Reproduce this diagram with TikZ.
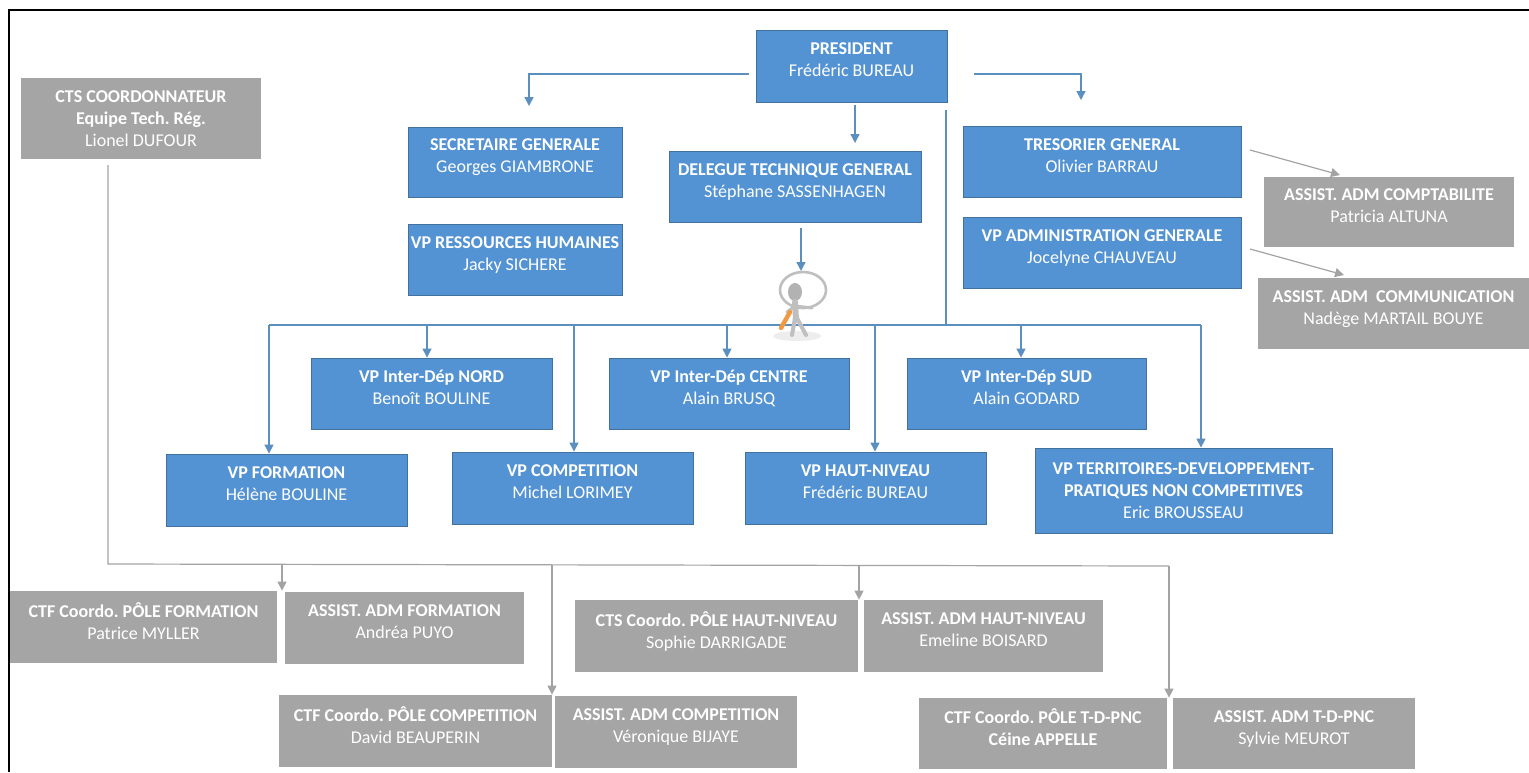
\documentclass[tikz,border=0pt]{standalone}
\usepackage{fontspec}
\setmainfont{Carlito}
\usetikzlibrary{arrows.meta,calc}
\definecolor{bluebox}{HTML}{5393D3}
\definecolor{blueedge}{HTML}{41719C}
\definecolor{blueline}{HTML}{5B8FBF}
\definecolor{greybox}{HTML}{A5A5A5}
\definecolor{greyline}{HTML}{A3A3A3}
\tikzset{
  chart/.style={x=0.5pt,y=-0.5pt},
  orgbox/.style={inner sep=0pt,align=center,text=white,font=\fontsize{9}{11}\selectfont\frenchspacing},
  bluenode/.style={orgbox,fill=bluebox,draw=blueedge,line width=0.45pt},
  greynode/.style={orgbox,fill=greybox},
  bluewire/.style={draw=blueline,line width=0.7pt,-{Triangle[length=4.5pt,width=4.5pt]}},
  bluebus/.style={draw=blueline,line width=0.7pt},
  greywire/.style={draw=greyline,line width=0.6pt,-{Triangle[length=4.5pt,width=4.5pt]}},
  greybus/.style={draw=greyline,line width=0.6pt},
}
\newcommand{\orgnode}[7]{%
  \pgfmathsetmacro{\cxv}{(#3+#5)/2}%
  \pgfmathsetmacro{\cyv}{(#4+#6)/2}%
  \pgfmathsetmacro{\wv}{(#5-#3)*0.5}%
  \pgfmathsetmacro{\hv}{(#6-#4)*0.5}%
  \node[#1,minimum width=\wv pt,minimum height=\hv pt] (#2) at (\cxv,\cyv) {#7};%
}
\newcommand{\tl}{\\[-5pt]\mbox{}}
\begin{document}
\begin{tikzpicture}[chart]
\useasboundingbox (0,0) rectangle (1529,772);
\fill[white] (0,0) rectangle (1529,772);
% frame
\coordinate (frameA) at (9,772);
\coordinate (frameB) at (9,10);
\coordinate (frameC) at (1529,10);
\draw[black,line width=1pt] (frameA) -- (frameB) -- (frameC);
% blue boxes
\orgnode{bluenode}{pres}{756}{30}{947}{102}{\textbf{PRESIDENT}\\Frédéric BUREAU\tl}
\orgnode{bluenode}{sec}{408}{127}{622}{197}{\textbf{SECRETAIRE GENERALE}\\Georges GIAMBRONE\tl}
\orgnode{bluenode}{dtg}{669}{151}{921}{222}{\textbf{DELEGUE TECHNIQUE GENERAL}\\Stéphane SASSENHAGEN\tl}
\orgnode{bluenode}{rh}{408}{224}{622}{295}{\textbf{VP RESSOURCES HUMAINES}\\Jacky SICHERE\tl}
\orgnode{bluenode}{tres}{963}{126}{1241}{197}{\textbf{TRESORIER GENERAL}\\Olivier BARRAU\tl}
\orgnode{bluenode}{adm}{963}{217}{1241}{288}{\textbf{VP ADMINISTRATION GENERALE}\\Jocelyne CHAUVEAU\tl}
\orgnode{bluenode}{nord}{311}{358}{552}{429}{\textbf{VP Inter-Dép NORD}\\Benoît BOULINE\tl}
\orgnode{bluenode}{centre}{609}{358}{849}{429}{\textbf{VP Inter-Dép CENTRE}\\Alain BRUSQ\tl}
\orgnode{bluenode}{sud}{907}{358}{1146}{429}{\textbf{VP Inter-Dép SUD}\\Alain GODARD\tl}
\orgnode{bluenode}{form}{166}{454}{407}{526}{\textbf{VP FORMATION}\\Hélène BOULINE\tl}
\orgnode{bluenode}{comp}{452}{452}{693}{524}{\textbf{VP COMPETITION}\\Michel LORIMEY\tl}
\orgnode{bluenode}{hn}{745}{452}{986}{524}{\textbf{VP HAUT-NIVEAU}\\Frédéric BUREAU\tl}
\orgnode{bluenode}{terr}{1035}{448}{1332}{533}{\textbf{VP TERRITOIRES-DEVELOPPEMENT-}\\\textbf{PRATIQUES NON COMPETITIVES}\\Eric BROUSSEAU}
% grey boxes
\orgnode{greynode}{cts}{21}{78}{261}{159}{\textbf{CTS COORDONNATEUR}\\\textbf{Equipe Tech. Rég.}\\Lionel DUFOUR}
\orgnode{greynode}{acpt}{1264}{177}{1514}{247}{\textbf{ASSIST. ADM COMPTABILITE}\\Patricia ALTUNA\tl}
\orgnode{greynode}{acom}{1258}{278}{1529}{349}{\textbf{ASSIST. ADM\ \ COMMUNICATION}\\Nadège MARTAIL BOUYE\tl}
\orgnode{greynode}{cf}{10}{591}{277}{663}{\textbf{CTF Coordo. PÔLE FORMATION}\\Patrice MYLLER\tl}
\orgnode{greynode}{af}{285}{592}{524}{664}{\textbf{ASSIST. ADM FORMATION}\\Andréa PUYO\tl}
\orgnode{greynode}{chn}{575}{600}{858}{672}{\textbf{CTS Coordo. PÔLE HAUT-NIVEAU}\\Sophie DARRIGADE\tl}
\orgnode{greynode}{ahn}{864}{600}{1103}{672}{\textbf{ASSIST. ADM HAUT-NIVEAU}\\Emeline BOISARD\tl}
\orgnode{greynode}{cc}{279}{695}{552}{767}{\textbf{CTF Coordo. PÔLE COMPETITION}\\David BEAUPERIN\tl}
\orgnode{greynode}{ac}{555}{696}{797}{768}{\textbf{ASSIST. ADM COMPETITION}\\Véronique BIJAYE\tl}
\orgnode{greynode}{ct}{919}{698}{1167}{769}{\textbf{CTF Coordo. PÔLE T-D-PNC}\\\textbf{Céine APPELLE}\tl}
\orgnode{greynode}{at}{1173}{698}{1415}{769}{\textbf{ASSIST. ADM T-D-PNC}\\Sylvie MEUROT\tl}
% junction points
\coordinate (pl) at (749,74);
\coordinate (pr) at (974,74);
\coordinate (secin) at (529,106);
\coordinate (tresin) at (1081,100);
\coordinate (presout) at (855,105);
\coordinate (dtgin) at (855,143);
\coordinate (vtop) at (946,110);
\coordinate (vbot) at (946,325);
\coordinate (dout) at (801,228);
\coordinate (dend) at (801,271);
\coordinate (busL) at (269,325);
\coordinate (tapN) at (427,325);
\coordinate (tapC) at (574,325);
\coordinate (tapM) at (727,325);
\coordinate (tapH) at (875,325);
\coordinate (tapS) at (1021,325);
\coordinate (busR) at (1201,325);
\coordinate (gtop) at (108,165);
\coordinate (gcorner) at (108,564);
\coordinate (gend) at (1169,566);
\coordinate (tapGa) at (282,564);
\coordinate (tapGb) at (552,565);
\coordinate (tapGc) at (859,565);
\coordinate (tresA) at (1250,150);
\coordinate (tresB) at (1340,175);
\coordinate (admA) at (1250,249);
\coordinate (admB) at (1344,275);
% blue connectors
\draw[bluewire] (pl) -| (secin);
\draw[bluewire] (pr) -| (tresin);
\draw[bluewire] (presout) -- (dtgin);
\draw[bluewire] (dout) -- (dend);
\draw[bluebus] (vtop) -- (vbot);
\draw[bluebus] (busL) -- (busR);
\draw[bluewire] (busL) -- (busL |- form.north);
\draw[bluewire] (tapN) -- (tapN |- nord.north);
\draw[bluewire] (tapC) -- (tapC |- comp.north);
\draw[bluewire] (tapM) -- (tapM |- centre.north);
\draw[bluewire] (tapH) -- (tapH |- hn.north);
\draw[bluewire] (tapS) -- (tapS |- sud.north);
\draw[bluewire] (busR) -- (busR |- terr.north);
% grey connectors
\draw[greywire] (tresA) -- (tresB);
\draw[greywire] (admA) -- (admB);
\draw[greybus] (gtop) -- (gcorner) -- (gend);
\draw[greywire] (tapGa) -- (tapGa |- cf.north);
\draw[greywire] (tapGb) -- (tapGb |- cc.north);
\draw[greywire] (tapGc) -- (tapGc |- chn.north);
\draw[greywire] (gend) -- (gend |- ct.north);
% figure
\fill[black!7] (797,336) ellipse (24 and 5);
\draw[black!25,line width=1.3pt] (803,290) ellipse (23 and 18);
\fill[black!30] (795,292) ellipse (7 and 9);
\draw[black!25,line width=3pt,line cap=round] (795,302) -- (796,320);
\draw[black!25,line width=2pt,line cap=round] (795,318) -- (792,335);
\draw[black!25,line width=2pt,line cap=round] (797,318) -- (806,335);
\draw[black!25,line width=1.5pt,line cap=round] (795,306) -- (812,308);
\draw[black!25,line width=1.5pt,line cap=round] (795,306) -- (787,312);
\draw[orange!70!brown!80!white,line width=2.2pt,line cap=round] (790,312) -- (781,328);
\end{tikzpicture}
\end{document}
